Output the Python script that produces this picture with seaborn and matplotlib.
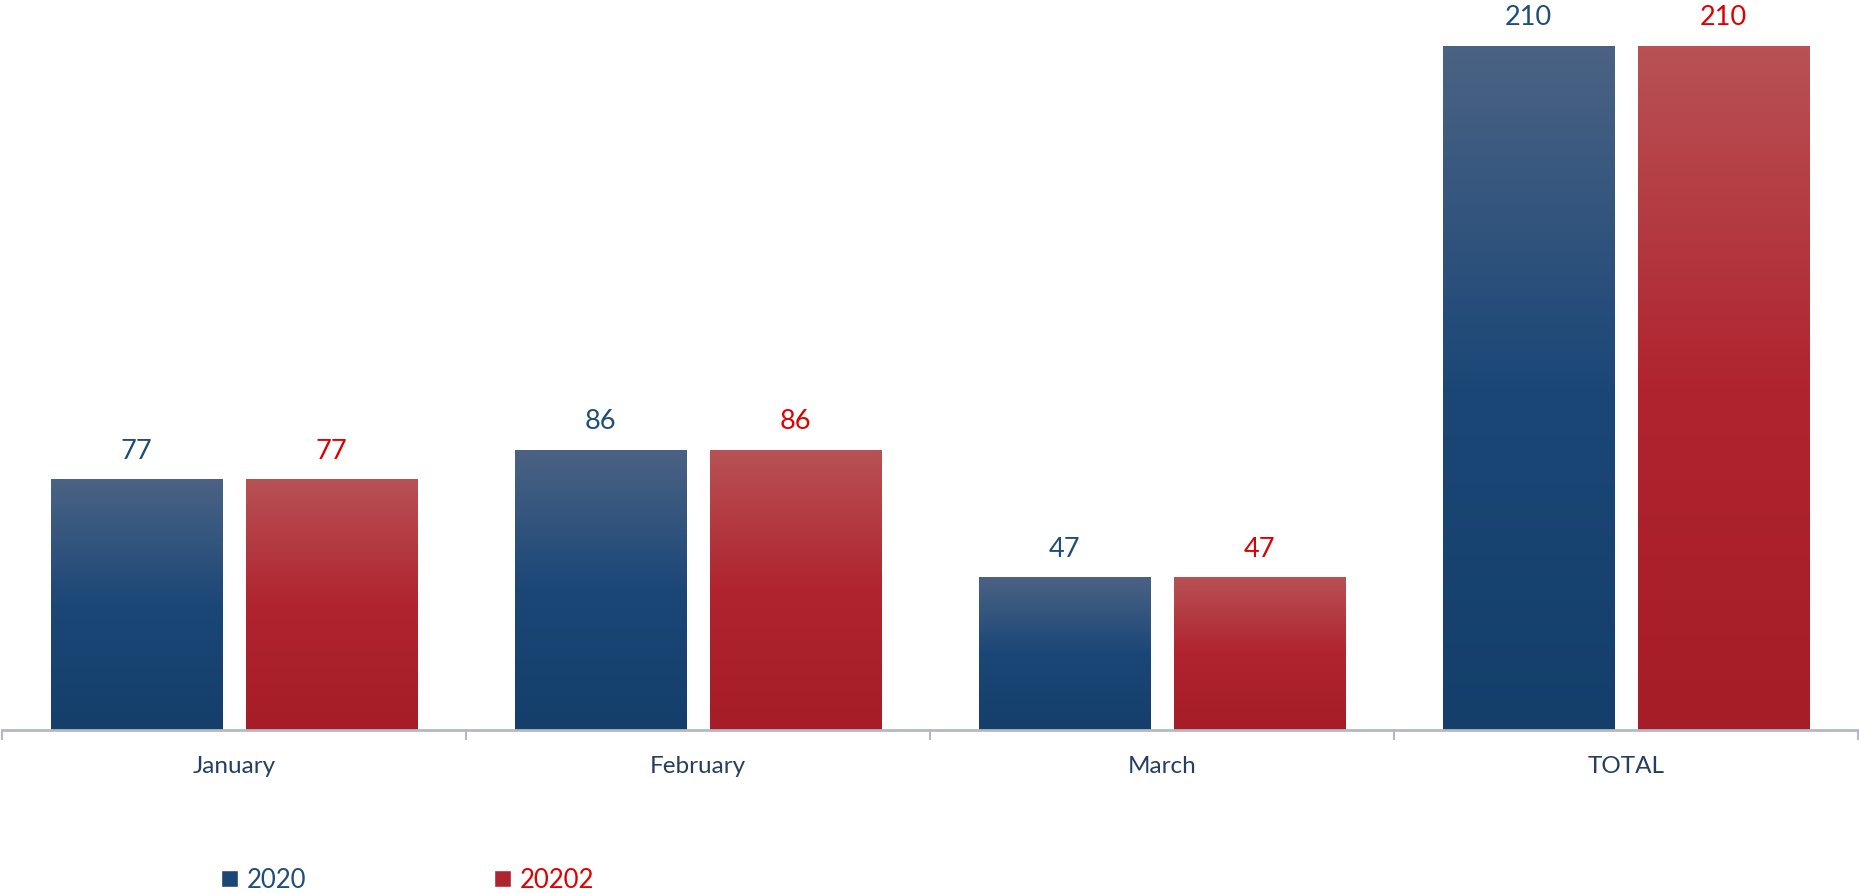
import matplotlib.pyplot as plt
import seaborn as sns
import numpy as np
import pandas as pd
from matplotlib.colors import LinearSegmentedColormap
from matplotlib.patches import Patch

# data
categories = ['January', 'February', 'March', 'TOTAL']
series_names = ['2020', '20202']
values_2020 = [77, 86, 47, 210]
values_20202 = [77, 86, 47, 210]

blue_stops = ['#4b6384', '#1b4777', '#143f6b']
red_stops = ['#b85255', '#b0242f', '#a51d27']
label_colors = ['#1f4e79', '#e00000']

df = pd.DataFrame({
    'category': categories * 2,
    'series': [series_names[0]] * len(categories) + [series_names[1]] * len(categories),
    'value': values_2020 + values_20202,
})

sns.set_style('white')
plt.rcParams['font.family'] = ['Lato', 'DejaVu Sans']

fig = plt.figure(figsize=(18.59, 8.94), dpi=100)
ax = fig.add_axes([2 / 1859, 164 / 894, 1856 / 1859, 730 / 894])

sns.barplot(data=df, x='category', y='value', hue='series', order=categories,
            hue_order=series_names, palette=[blue_stops[1], red_stops[1]],
            width=0.84, gap=0.12, legend=False, ax=ax, zorder=2)

# vertical gradient fill on each bar, clipped to the bar shape
grad = np.linspace(0, 1, 256).reshape(-1, 1)
for container, stops in zip(ax.containers, [blue_stops, red_stops]):
    cmap = LinearSegmentedColormap.from_list('g', list(zip([0, 0.5, 1], stops)))
    for bar in container:
        x0, w, h = bar.get_x(), bar.get_width(), bar.get_height()
        im = ax.imshow(grad, cmap=cmap, aspect='auto', origin='upper',
                       extent=[x0, x0 + w, 0, h], zorder=3)
        im.set_clip_path(bar)
        bar.set_edgecolor('none')

for container, c in zip(ax.containers, label_colors):
    ax.bar_label(container, labels=[str(int(b.get_height())) for b in container],
                 padding=11, color=c, fontsize=19.5)

ax.set_xlim(-0.5, 3.5)
ax.set_ylim(0, 224)
ax.set_xlabel('')
ax.set_ylabel('')
ax.set_yticks([])

for s in ['top', 'right', 'left']:
    ax.spines[s].set_visible(False)
ax.spines['bottom'].set_color('#b3b8c4')
ax.spines['bottom'].set_linewidth(2)
ax.spines['bottom'].set_zorder(4)

ax.set_xticks(range(len(categories)))
ax.set_xticklabels(categories, fontsize=17.5, color='#243f60')
ax.tick_params(axis='x', which='major', bottom=True, length=0, pad=19)
ax.set_xticks([-0.5, 0.5, 1.5, 2.5, 3.5], minor=True)
ax.tick_params(axis='x', which='minor', bottom=True, length=7, width=1.5,
               color='#b3b8c4', direction='out')

handles = [Patch(facecolor=blue_stops[1], label=series_names[0]),
           Patch(facecolor=red_stops[1], label=series_names[1])]
leg = fig.legend(handles=handles, loc='center left', bbox_to_anchor=(198 / 1859, 14 / 894),
                 ncol=2, frameon=False, fontsize=18.5, handlelength=0.66, handleheight=0.66,
                 handletextpad=0.35, columnspacing=7.3)
for t, c in zip(leg.get_texts(), label_colors):
    t.set_color(c)

plt.savefig('out.png', dpi=100)
plt.close()
